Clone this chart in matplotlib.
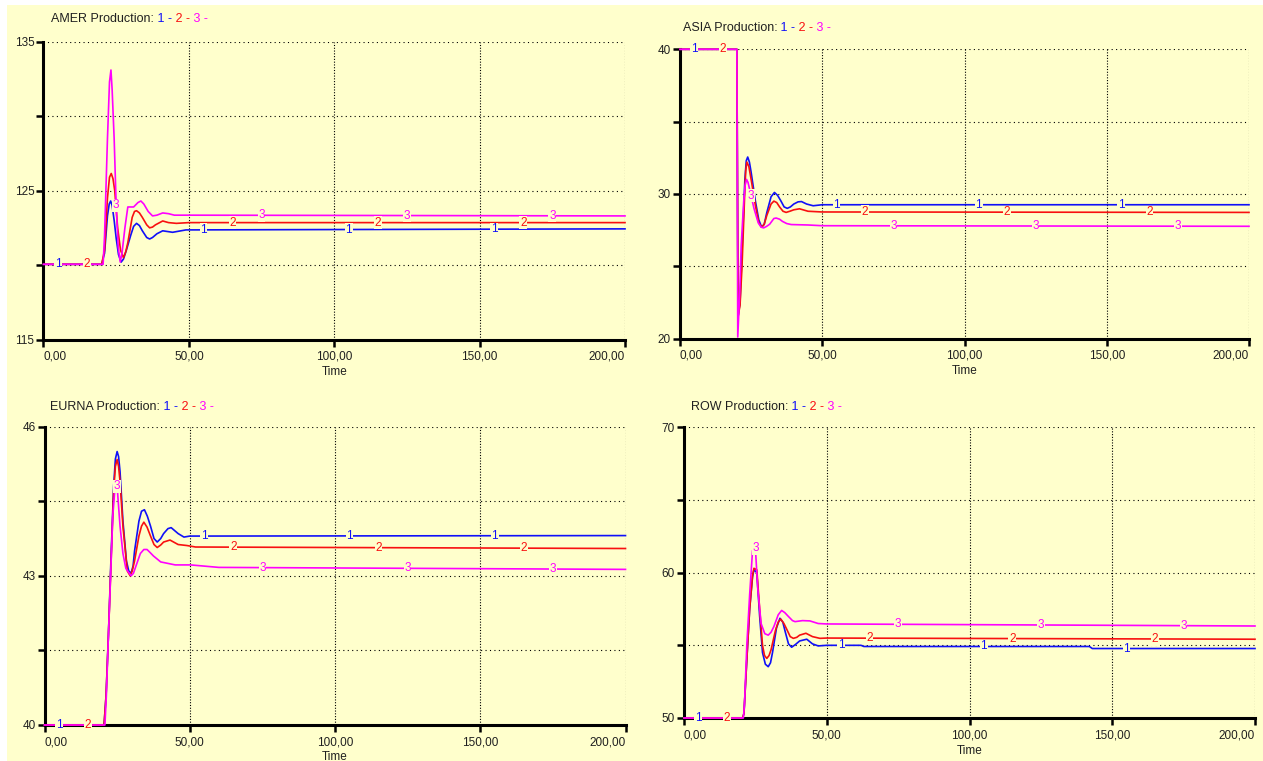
import matplotlib.pyplot as plt
import numpy as np

W, H = 1263, 761
BG = "#FFFFCC"
COLORS = ["#1010F8", "#F81010", "#FF00FF"]
plt.rcParams["font.family"] = ["Liberation Sans", "DejaVu Sans"]

x_ticks = [0, 50, 100, 150, 200]
x_labels = ["0,00", "50,00", "100,00", "150,00", "200,00"]

# AMER Production, runs 1-3
amer_t1 = [0, 20, 21, 22, 22.6, 23.1, 23.6, 24.3, 25, 25.8, 26.7, 27.5, 28.5, 30, 31, 32, 33, 34, 35.5, 36.5, 37.5, 39, 41, 44.4, 49, 200]
amer_v1 = [120.05, 120.05, 120.8, 123.3, 124.1, 124.3, 124.0, 123.0, 121.8, 120.7, 120.2, 120.4, 121.0, 122.0, 122.6, 122.8, 122.65, 122.3, 121.85, 121.75, 121.85, 122.1, 122.3, 122.2, 122.36, 122.43]
amer_t2 = [0, 20, 21, 22, 22.7, 23.3, 23.9, 24.5, 25.5, 26.5, 27.5, 28.3, 29, 30.5, 31.3, 32, 33, 34, 35.5, 36.5, 37.5, 38.5, 41, 43, 45.7, 50, 200]
amer_v2 = [120.05, 120.05, 121.0, 124.5, 125.9, 126.15, 125.8, 125.0, 122.5, 121.0, 120.5, 120.9, 121.5, 123.2, 123.6, 123.65, 123.5, 123.2, 122.7, 122.5, 122.55, 122.7, 122.96, 122.85, 122.8, 122.85, 122.85]
amer_t3 = [0, 20.5, 21, 22, 22.7, 23.2, 23.6, 24.3, 25, 25.7, 26.4, 27, 28, 29, 31, 32.5, 33.5, 34.5, 36, 37.5, 39, 41, 43, 45, 50, 200]
amer_v3 = [120.05, 120.05, 122.0, 128.5, 132.3, 133.1, 131.8, 128.5, 124.0, 121.2, 120.2, 120.8, 122.5, 123.9, 123.9, 124.2, 124.3, 124.1, 123.6, 123.3, 123.35, 123.5, 123.45, 123.35, 123.35, 123.3]

# ASIA Production
asia_t1 = [0, 20.0, 20.4, 21.1, 21.8, 22.8, 23.3, 23.8, 24.4, 25, 26.5, 27.7, 28.7, 29.6, 30.5, 32, 33.2, 34.3, 35.5, 36.6, 37.7, 38.8, 40, 41.5, 42.7, 44.5, 46.8, 50, 200]
asia_v1 = [40, 40, 21.5, 22.5, 26.0, 31.0, 32.3, 32.55, 32.2, 31.5, 29.5, 28.2, 27.7, 27.9, 28.7, 29.8, 30.1, 29.9, 29.5, 29.1, 29.0, 29.1, 29.3, 29.45, 29.47, 29.3, 29.18, 29.25, 29.25]
asia_t2 = [0, 20.0, 20.4, 21.1, 21.8, 22.7, 23.1, 23.5, 24.2, 25, 26.5, 27.7, 28.7, 29.6, 30.5, 32, 33, 34, 35, 36.2, 37.3, 38.6, 40, 42, 45, 50, 200]
asia_v2 = [40, 40, 21.5, 22.3, 25.0, 29.8, 31.6, 32.2, 31.9, 31.0, 29.2, 28.0, 27.7, 27.9, 28.5, 29.3, 29.5, 29.4, 29.1, 28.8, 28.72, 28.8, 28.9, 28.97, 28.8, 28.75, 28.72]
asia_t3 = [0, 20.0, 20.3, 21.0, 21.5, 22.4, 22.9, 23.4, 23.9, 24.5, 26, 27.5, 28.5, 29.4, 30.4, 31.5, 33, 33.8, 35, 36, 37.5, 39.1, 45, 50, 200]
asia_v3 = [40, 40, 20.1, 23.2, 26.4, 29.5, 30.6, 31.0, 30.8, 30.3, 29.0, 28.0, 27.7, 27.65, 27.75, 27.9, 28.3, 28.33, 28.25, 28.1, 27.95, 27.88, 27.85, 27.8, 27.76]

# EURNA Production
eurna_t1 = [0, 20.5, 21.2, 22, 22.8, 23.8, 24.4, 25, 25.5, 26, 27, 28.2, 29, 29.8, 30.5, 31, 32.5, 33.4, 34.4, 35.4, 36.5, 37.7, 38.8, 40, 41, 42.5, 43.6, 46, 48, 50, 200]
eurna_v1 = [40, 40, 40.6, 41.8, 43.2, 44.8, 45.35, 45.5, 45.4, 45.1, 44.1, 43.3, 43.1, 43.05, 43.2, 43.5, 44.1, 44.3, 44.33, 44.2, 44.0, 43.75, 43.68, 43.75, 43.85, 43.95, 43.97, 43.85, 43.78, 43.8, 43.81]
eurna_t2 = [0, 20.5, 21.2, 22, 22.8, 23.8, 24.4, 25, 25.5, 26, 27, 28.5, 29.5, 30.2, 31, 32.5, 33.4, 34.2, 35.3, 36.5, 37.7, 38.8, 40, 41, 43.2, 46, 49, 52, 200]
eurna_v2 = [40, 40, 40.6, 41.8, 43.1, 44.7, 45.2, 45.34, 45.2, 44.9, 44.0, 43.1, 43.0, 43.1, 43.3, 43.8, 44.0, 44.08, 43.98, 43.8, 43.63, 43.57, 43.62, 43.68, 43.72, 43.63, 43.61, 43.58, 43.55]
eurna_t3 = [0, 20.8, 21.3, 22, 22.7, 23.5, 24.3, 25, 26, 27, 28, 29.8, 30.6, 31.5, 33, 34.2, 35.3, 36.5, 37.5, 40, 45, 50.3, 60, 200]
eurna_v3 = [40, 40, 40.6, 41.8, 42.9, 44.2, 44.8, 44.8, 44.0, 43.45, 43.15, 43.0, 43.05, 43.2, 43.45, 43.53, 43.53, 43.46, 43.4, 43.28, 43.22, 43.22, 43.17, 43.13]

# ROW Production
row_t1 = [0, 20.5, 21, 22, 23, 24, 24.5, 25.5, 26.5, 27.5, 28.5, 29.5, 30.3, 31, 32.4, 33.6, 34.6, 35.5, 36.6, 37.7, 39, 40.5, 43, 45, 47, 50, 62, 63, 142, 143, 200]
row_v1 = [50, 50, 50.3, 54.0, 57.5, 59.7, 60.2, 60.0, 57.0, 54.5, 53.7, 53.53, 53.8, 54.5, 56.2, 56.86, 56.6, 55.9, 55.1, 54.87, 55.05, 55.3, 55.42, 55.1, 54.96, 55.0, 55.0, 54.92, 54.92, 54.78, 54.78]
row_t2 = [0, 20.5, 21, 22, 23, 24, 24.5, 25.5, 26.5, 27.5, 28.2, 29, 29.8, 30.5, 32, 33, 33.9, 35, 36, 37.2, 38.3, 39.5, 40.5, 42.7, 45, 47.6, 50, 200]
row_v2 = [50, 50, 50.3, 54.0, 57.5, 59.8, 60.3, 60.2, 57.5, 55.0, 54.3, 54.1, 54.3, 54.7, 56.0, 56.6, 56.8, 56.5, 56.1, 55.6, 55.48, 55.55, 55.7, 55.83, 55.6, 55.48, 55.5, 55.42]
row_t3 = [0, 20.8, 21.2, 22, 23, 24, 24.5, 25, 25.8, 27, 28.3, 29.5, 30.5, 31.5, 33, 34.2, 35.3, 36.5, 38, 38.9, 41.5, 44.1, 47, 50, 200]
row_v3 = [50, 50, 51.0, 55.0, 58.5, 61.5, 61.8, 61.7, 59.0, 56.5, 55.8, 55.7, 55.9, 56.3, 57.1, 57.4, 57.25, 57.0, 56.7, 56.63, 56.7, 56.68, 56.5, 56.47, 56.33]

fig = plt.figure(figsize=(W / 100, H / 100), dpi=100, facecolor=BG)
fig.patches.append(plt.Rectangle((0, 1 - 5 / H), 1, 5 / H, transform=fig.transFigure, fc="white", ec="none"))
fig.patches.append(plt.Rectangle((0, 0), 7 / W, 1, transform=fig.transFigure, fc="white", ec="none"))


def draw_panel(box, name, title_xy, series, ylim, ylabels):
    l, t, r, b = box
    ax = fig.add_axes([l / W, 1 - b / H, (r - l) / W, (b - t) / H], facecolor=BG)
    for i, (tt, vv) in enumerate(series):
        ax.plot(tt, vv, color=COLORS[i], lw=1.2, zorder=3 + i, clip_on=False)
        for k in range(4):
            lt = 5 + 10 * i + 50 * k
            ax.text(lt, np.interp(lt, tt, vv), str(i + 1), color=COLORS[i], fontsize=8.5,
                    ha="center", va="center", zorder=10,
                    bbox=dict(fc=BG, ec="none", pad=0.4))
    ax.set_xlim(0, 200)
    ax.set_ylim(*ylim)
    yt = np.linspace(ylim[0], ylim[1], 5)
    ax.set_yticks(yt, ylabels)
    ax.set_xticks(x_ticks, x_labels)
    lbls = ax.get_xticklabels()
    lbls[0].set_ha("left")
    lbls[-1].set_ha("right")
    for s in ["top", "right"]:
        ax.spines[s].set_visible(False)
    for s in ["left", "bottom"]:
        ax.spines[s].set_linewidth(2.2)
        ax.spines[s].set_zorder(2.5)
    ax.tick_params(axis="both", direction="out", length=5, width=1.8, labelsize=8.5,
                   labelcolor="#202020")
    ax.tick_params(axis="y", pad=1.5)
    ax.tick_params(axis="x", pad=3)
    ax.xaxis.grid(True, color="black", linestyle=(0, (1, 1.5)), lw=0.8)
    ax.yaxis.grid(True, color="black", linestyle=(0, (1, 3)), lw=0.8)
    ax.annotate("Time", xy=(0.5, 0), xycoords="axes fraction", xytext=(0, -32.5),
                textcoords="offset pixels", ha="center", va="center", fontsize=8.5, color="#202020")

    tx = fig.text(title_xy[0] / W, 1 - title_xy[1] / H, name + " Production:", fontsize=9,
                  color="#202020", va="center")
    prev = tx
    for i in range(3):
        prev = ax.annotate(" %d -" % (i + 1), xy=(1, 0), xycoords=prev, fontsize=9,
                           color=COLORS[i], va="bottom", ha="left", annotation_clip=False)
    return ax


draw_panel((43.5, 41.7, 625, 339.5), "AMER", (51, 19.3),
           [(amer_t1, amer_v1), (amer_t2, amer_v2), (amer_t3, amer_v3)],
           (115, 135), ["115", "", "125", "", "135"])
draw_panel((680, 49.3, 1249, 338.5), "ASIA", (682.7, 28.3),
           [(asia_t1, asia_v1), (asia_t2, asia_v2), (asia_t3, asia_v3)],
           (20, 40), ["20", "", "30", "", "40"])
draw_panel((44.5, 426.7, 625.5, 725), "EURNA", (50, 406.7),
           [(eurna_t1, eurna_v1), (eurna_t2, eurna_v2), (eurna_t3, eurna_v3)],
           (40, 46), ["40", "", "43", "", "46"])
draw_panel((684, 427.3, 1255, 718), "ROW", (690.7, 407.3),
           [(row_t1, row_v1), (row_t2, row_v2), (row_t3, row_v3)],
           (50, 70), ["50", "", "60", "", "70"])

fig.savefig("out.png", dpi=100, facecolor=BG)
